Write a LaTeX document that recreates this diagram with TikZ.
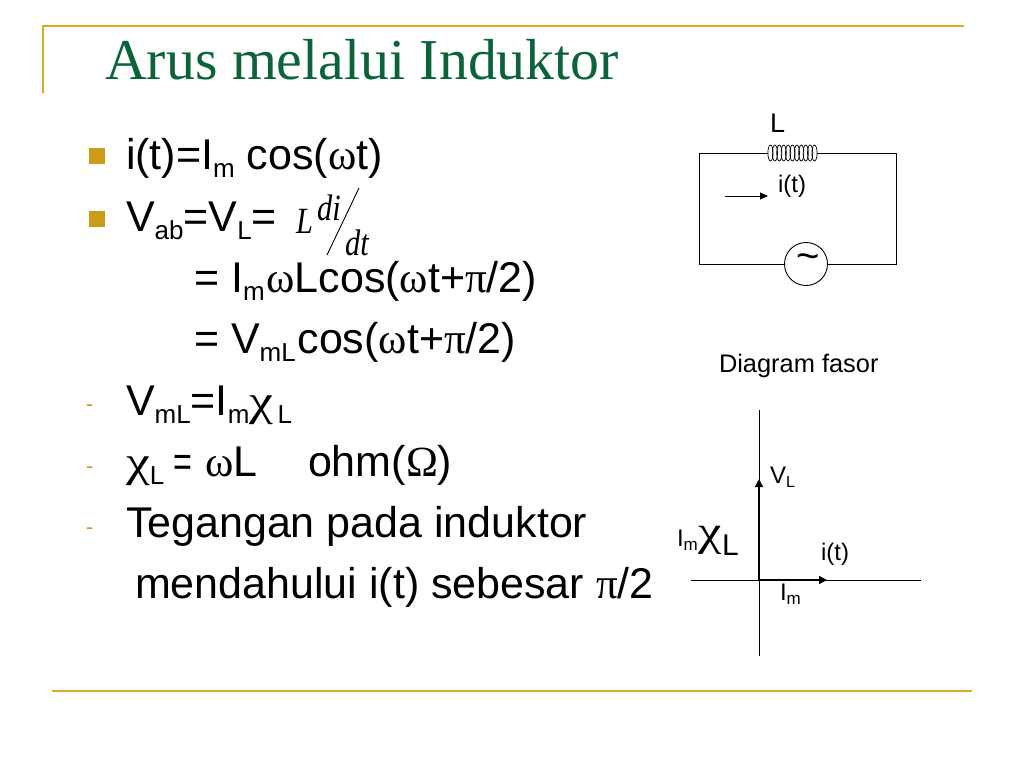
\documentclass[tikz,border=0pt]{standalone}
\usepackage{fontspec}
\setmainfont{Liberation Sans}
\newfontfamily\serf{Liberation Serif}
\usetikzlibrary{arrows.meta}
\definecolor{rulegold}{HTML}{D9A92B}
\definecolor{bulletgold}{HTML}{CC9C14}
\definecolor{titlegreen}{HTML}{0B6339}
\definecolor{dashor}{HTML}{D9912B}
\newcommand{\gk}[1]{{\serf #1}}
\newcommand{\chiw}{\scalebox{1.25}[1]{\serf χ}}
\newcommand{\sz}[1]{\fontsize{#1}{#1}\selectfont}
\newcommand{\sbs}[2]{\raisebox{-0.2em}{\sz{#1}#2}}
\newcommand{\narrow}[1]{\scalebox{0.82}[1]{#1}}
\tikzset{
  txt/.style={anchor=base west,inner sep=0pt,outer sep=0pt,font=\sz{43}},
  small/.style={anchor=base west,inner sep=0pt,outer sep=0pt,font=\sz{24}},
  frac/.style={anchor=base west,inner sep=0pt,font=\serf\itshape\sz{37}},
  goldrule/.style={draw=rulegold,line width=2pt},
  wire/.style={draw=black,line width=0.9pt},
  axisline/.style={draw=black,line width=0.9pt},
  phasor/.style={draw=black,line width=1.4pt,-{Triangle[length=8pt,width=8pt]}},
  bulletbox/.style={fill=bulletgold,draw=none,minimum size=16pt,inner sep=0pt},
  dashbul/.style={anchor=base west,inner sep=0pt,text=dashor,font=\sz{22}}
}
\begin{document}
\begin{tikzpicture}[x=1pt,y=-1pt]
\useasboundingbox (0,0) rectangle (1024,768);
% frame rules
\coordinate (tl) at (42,26); \coordinate (tr) at (964,26); \coordinate (ll) at (43,93);
\coordinate (bl) at (52,691); \coordinate (br) at (972,691);
\draw[goldrule] (tr) -- (tl);
\draw[goldrule] (43,26) -- (ll);
\draw[goldrule] (bl) -- (br);
% title
\node[anchor=base west,inner sep=0pt,text=titlegreen,font=\serf\sz{57.8}] (title) at (105,79) {Arus melalui Induktor};
% bullets
\node[bulletbox] (b1) at (97,156) {};
\node[bulletbox] (b2) at (97,219) {};
\node[dashbul] (d1) at (86,411) {-};
\node[dashbul] (d2) at (86,473) {-};
\node[dashbul] (d3) at (86,534) {-};
% text
\node[txt] (l1) at (126,169) {i(t)=I\sbs{26}{m} cos(\gk{ω}t)};
\node[txt] (l2) at (126,231) {V\sbs{26}{ab}=V\sbs{26}{L}=};
\node[frac] (fL) at (296,233) {\narrow{L}};
\node[frac] (fdi) at (317,220) {\narrow{di}};
\node[frac] (fdt) at (345,255) {\narrow{dt}};
\coordinate (s1) at (327,255); \coordinate (s2) at (359,188);
\draw[line width=0.9pt] (s1) -- (s2);
\node[txt] (l3) at (194,292) {= I\sbs{26}{m}\hspace{0.04em}\gk{ω}Lcos(\gk{ω}t+\gk{π}/2)};
\node[txt] (l4) at (194,353) {= V\sbs{26}{mL}\hspace{0.04em}cos(\gk{ω}t+\gk{π}/2)};
\node[txt] (l5) at (126,415) {V\sbs{26}{mL}=I\sbs{26}{m}\chiw\hspace{0.1em}\sbs{26}{L}};
\node[txt] (l6) at (126,476) {\chiw\sbs{26}{L}\hspace{0.21em}\scalebox{0.75}[1]{=}\hspace{0.31em}\gk{ω}L\hspace{1.17em}ohm(\gk{Ω})};
\node[txt] (l7) at (126,537) {Tegangan pada induktor};
\node[txt] (l8) at (135,598) {mendahului i(t) sebesar \gk{π}/2};
% circuit
\node[small] (L) at (770,132) {\sz{27}L};
\node[inner sep=0pt,minimum width=49pt,minimum height=16pt] (coil) at (792.5,153) {};
\foreach \i in {0,...,10} {
  \draw[line width=0.7pt] (770.5+4.4*\i,153) ellipse [x radius=2.6,y radius=8];
}
\node[circle,draw=black,line width=0.9pt,minimum size=43pt,inner sep=0pt] (src) at (806,264) {};
\node[inner sep=0pt,font=\sz{40}] (tilde) at (808.5,262) {\textasciitilde};
\coordinate (c1) at (699,153); \coordinate (c2) at (699,264); \coordinate (c3) at (896,264); \coordinate (c4) at (896,153);
\draw[wire] (coil.west) -- (c1) -- (c2) -- (src.west);
\draw[wire] (src.east) -- (c3) -- (c4) -- (coil.east);
\coordinate (ia) at (725,196); \coordinate (ib) at (768,196);
\draw[draw=black,line width=0.9pt,-{Triangle[length=8pt,width=7pt]}] (ia) -- (ib);
\node[small] (it) at (778,192) {i(t)};
% phasor
\node[small] (dfas) at (719,372) {\sz{25.4}Diagram fasor};
\coordinate (vtop) at (759,410); \coordinate (vbot) at (759,656);
\coordinate (hl) at (691,580); \coordinate (hr) at (921,580);
\coordinate (o) at (759,580); \coordinate (vtip) at (759,479); \coordinate (itip) at (827,580);
\draw[axisline] (vtop) -- (vbot);
\draw[axisline] (hl) -- (hr);
\draw[phasor] (o) -- (vtip);
\draw[phasor] (o) -- (itip);
\node[small] (vl) at (770,483) {V\sbs{16}{L}};
\node[small] (imx) at (677,546) {I\sbs{17}{m}};
\node[anchor=base west,inner sep=0pt,font=\serf\sz{42}] (chi) at (698,545) {\chiw};
\node[anchor=base west,inner sep=0pt,font=\sz{30}] (chiL) at (722,555) {L};
\node[small] (it2) at (821,560) {i(t)};
\node[small] (im2) at (780,600) {I\sbs{17}{m}};
\end{tikzpicture}
\end{document}
